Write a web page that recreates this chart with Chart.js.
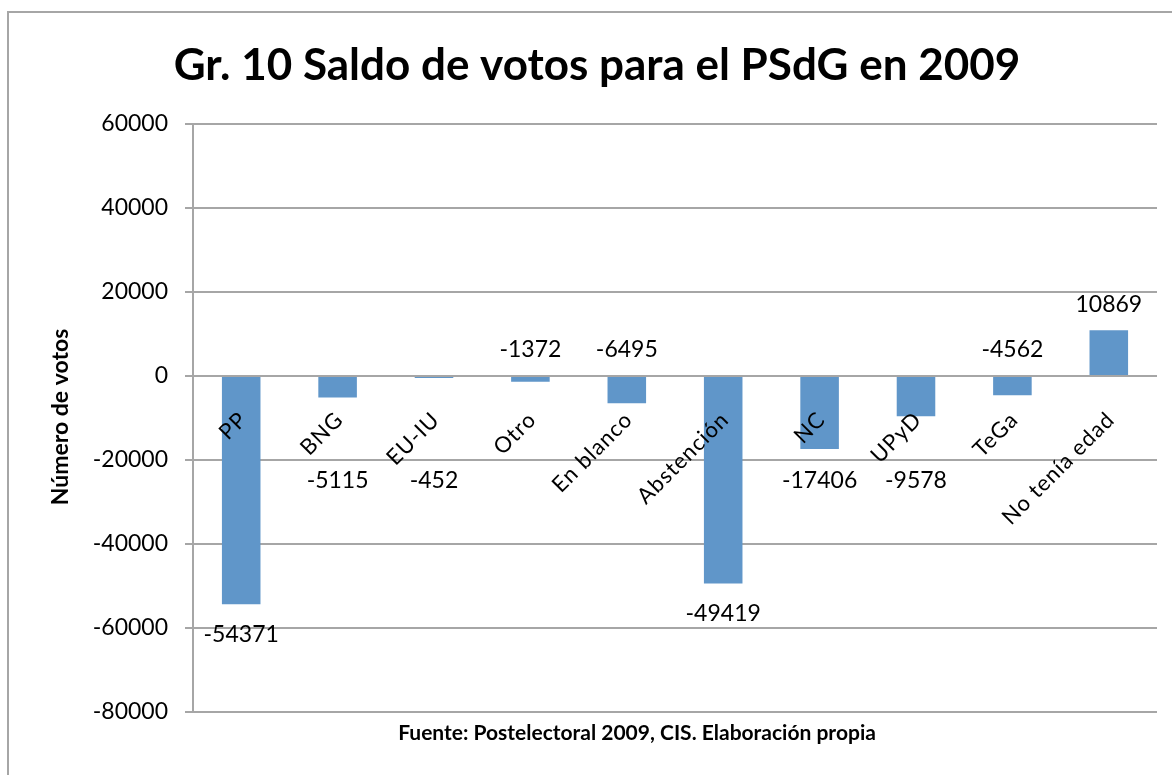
<!DOCTYPE html>
<html><head><meta charset="utf-8">
<script src="https://cdn.jsdelivr.net/npm/chart.js@4.4.1/dist/chart.umd.min.js"></script>
<style>html,body{margin:0;padding:0;background:#fff}#wrap{width:1172px;height:775px}</style>
</head><body><div id="wrap"><canvas id="c" width="1172" height="775"></canvas></div>
<script>
const categories = ['PP', 'BNG', 'EU-IU', 'Otro', 'En blanco', 'Abstención', 'NC', 'UPyD', 'TeGa', 'No tenía edad'];
const votos = [-54371, -5115, -452, -1372, -6495, -49419, -17406, -9578, -4562, 10869];
const yTicks = [60000, 40000, 20000, 0, -20000, -40000, -60000, -80000];
const labelPlacement = ['end', 'below', 'below', 'above', 'above', 'end', 'below', 'below', 'above', 'end'];
const titleText = 'Gr. 10 Saldo de votos para el PSdG en 2009';
const yTitleText = 'Número de votos';
const footerText = 'Fuente: Postelectoral 2009, CIS. Elaboración propia';

const FONT = 'Lato, "Open Sans", "Liberation Sans", sans-serif';
const GRID = '#a6a6a6';

const decor = {
  id: 'decor',
  afterDraw(chart) {
    const ctx = chart.ctx;
    const x = chart.scales.x, y = chart.scales.y;
    const zero = y.getPixelForValue(0);
    ctx.save();
    // outer border
    ctx.strokeStyle = GRID; ctx.lineWidth = 2;
    ctx.strokeRect(8, 12, 1200, 800);
    ctx.fillStyle = '#000';
    // title
    ctx.font = 'bold 44px ' + FONT;
    ctx.textAlign = 'center'; ctx.textBaseline = 'alphabetic';
    ctx.fillText(titleText, 597, 80);
    // y title
    ctx.save();
    ctx.translate(61, 417); ctx.rotate(-Math.PI / 2);
    ctx.font = 'bold 23px ' + FONT;
    ctx.textBaseline = 'middle';
    ctx.fillText(yTitleText, 0, 0);
    ctx.restore();
    // footer
    ctx.font = 'bold 21px ' + FONT;
    ctx.textBaseline = 'alphabetic';
    ctx.fillText(footerText, 637, 740);
    // category labels
    ctx.font = '22px ' + FONT;
    categories.forEach((c, i) => {
      const cx = x.getPixelForValue(i);
      ctx.save();
      ctx.letterSpacing = '1px';
      ctx.translate(cx + 2, zero + 40);
      ctx.rotate(-Math.PI / 4);
      ctx.textAlign = 'right'; ctx.textBaseline = 'middle';
      ctx.fillText(c, 0, 0);
      ctx.restore();
    });
    // data labels
    ctx.font = '23px ' + FONT;
    ctx.textAlign = 'center'; ctx.textBaseline = 'middle';
    votos.forEach((v, i) => {
      const cx = x.getPixelForValue(i);
      const end = y.getPixelForValue(v);
      let ly;
      const p = labelPlacement[i];
      if (p === 'end') ly = v < 0 ? end + 30 : end - 26;
      else if (p === 'above') ly = zero - 26;
      else ly = zero + 105;
      ctx.fillText(String(v), cx, ly);
    });
    ctx.restore();
  }
};

new Chart(document.getElementById('c'), {
  type: 'bar',
  data: {
    labels: categories,
    datasets: [{ data: votos, backgroundColor: '#6096c9', borderWidth: 0, barPercentage: 0.4, categoryPercentage: 1.0 }]
  },
  options: {
    responsive: false,
    animation: false,
    layout: { padding: { top: 124, bottom: 63, left: 0, right: 15 } },
    plugins: { legend: { display: false }, title: { display: false }, tooltip: { enabled: false } },
    scales: {
      x: { display: false },
      y: {
        min: -80000, max: 60000,
        afterBuildTicks: s => { s.ticks = yTicks.map(v => ({ value: v })); },
        afterFit: s => { s.width = 193; },
        ticks: { color: '#000', font: { family: FONT, size: 23 }, padding: 17, callback: v => String(v) },
        grid: { color: GRID, lineWidth: 2, tickLength: 8 },
        border: { color: GRID, width: 2 }
      }
    }
  },
  plugins: [decor]
});
</script>
</body></html>
